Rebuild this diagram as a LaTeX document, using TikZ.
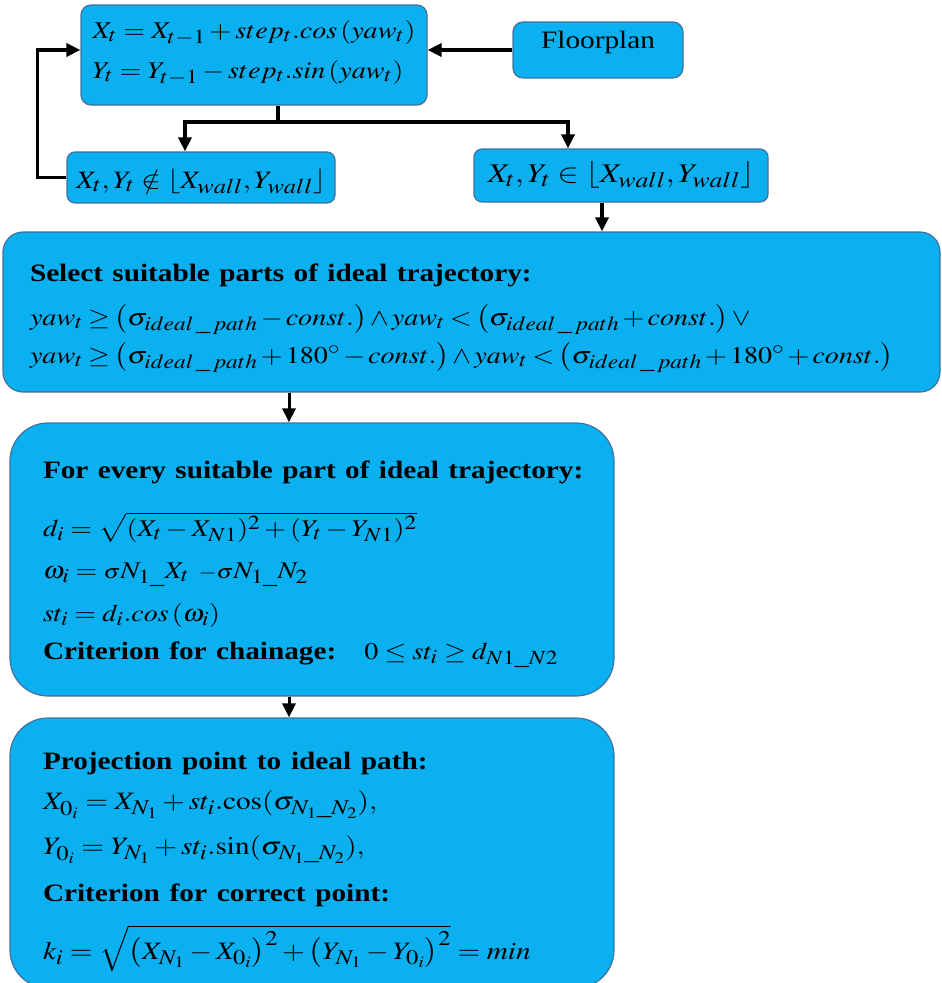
\documentclass[tikz,border=0pt]{standalone}
\usepackage{graphicx}
\usepackage{mathptmx}
\usepackage[no-math]{fontspec}
\setmainfont{Liberation Serif}
\usetikzlibrary{arrows.meta,positioning,calc}
\definecolor{skyfill}{HTML}{0AB0EF}
\definecolor{rim}{HTML}{41719C}
\DeclareMathSizes{27}{27}{22}{17}
\DeclareMathSizes{25}{25}{21}{16}
\DeclareMathSizes{24}{24}{20}{15}
\newcommand\xw[1]{\scalebox{1.17}[1]{#1}}
\newcommand\hd[1]{\xw{\fontsize{25}{38}\selectfont\textbf{#1}}}
\AtBeginDocument{\lineskiplimit=-100pt}

\begin{document}
\begin{tikzpicture}[x=1pt,y=-1pt,font=\fontsize{25}{38}\selectfont,>={Triangle[length=14pt,width=13pt]}]
\tikzset{blk/.style={draw=rim,fill=skyfill,line width=1.2pt,inner sep=0pt,align=left}, flow/.style={->,line width=3.6pt}, tight/.style={execute at begin node={\medmuskip=2mu\thickmuskip=3mu}}}
\useasboundingbox (0,0) rectangle (942,983);
\node[blk,rounded corners=10pt,minimum width=346pt,minimum height=100pt,font=\fontsize{24}{40}\selectfont] (a) at (254,55) {\rule{0pt}{30pt}\xw{$X_t = X_{t-1} + step_t.cos\left(yaw_t\right)$}\\\xw{$Y_t = Y_{t-1} - step_t.sin\left(yaw_t\right)$}\rule[-24pt]{0pt}{24pt}};
\node[blk,rounded corners=10pt,minimum width=170pt,minimum height=56pt,text height=19pt,text depth=23pt] (fp) at (598,50) {\xw{Floorplan}};
\node[blk,rounded corners=8pt,minimum width=268pt,minimum height=51pt,text height=25pt,text depth=4pt] (b) at (201,177.5) {\xw{$X_t,Y_t \notin \left\lfloor X_{wall},Y_{wall}\right\rfloor$}};
\node[blk,rounded corners=8pt,minimum width=294pt,minimum height=53pt,text height=21pt,text depth=8pt,font=\fontsize{27}{38}\selectfont] (c) at (621,175.5) {\xw{$X_t,Y_t \in \left\lfloor X_{wall},Y_{wall}\right\rfloor$}};
\node[blk,tight,rounded corners=20pt,minimum width=937pt,minimum height=160pt,text width=883pt,font=\fontsize{24}{38}\selectfont] (d) at (471.5,312) {\rule{0pt}{42pt}\hd{Select suitable parts of ideal trajectory:}\\[6pt]
\xw{$yaw_t \ge \left(\sigma_{ideal\,\_\,path} - const.\right) \wedge yaw_t < \left(\sigma_{ideal\,\_\,path} + const.\right) \vee$}\\
\xw{$yaw_t \ge \left(\sigma_{ideal\,\_\,path} + 180^\circ - const.\right) \wedge yaw_t < \left(\sigma_{ideal\,\_\,path} + 180^\circ + const.\right)$}\rule[-22pt]{0pt}{22pt}};
\node[blk,rounded corners=38pt,minimum width=604pt,minimum height=273pt,text width=538pt,font=\fontsize{24}{38}\selectfont] (e) at (312,559.5) {\rule{0pt}{42pt}\hd{For every suitable part of ideal trajectory:}\\[20pt]
\xw{$d_i = \sqrt{(X_t - X_{N1})^2 + (Y_t - Y_{N1})^2}$}\\[4pt]
\xw{$\omega_i = {\scriptstyle\sigma}N_{1\_}X_t\ {\scriptstyle -\sigma}N_{1\_}N_2$}\\[5pt]
\xw{$st_i = d_i.cos\left(\omega_i\right)$}\\
\hd{Criterion for chainage:}\xw{\quad $0 \le st_i \ge d_{N1\_N2}$}\rule[-24pt]{0pt}{24pt}};
\node[blk,rounded corners=38pt,minimum width=604pt,minimum height=270pt,text width=538pt] (f) at (312,853) {\rule{0pt}{47pt}\hd{Projection point to ideal path:}\\[2pt]
\xw{$X_{0_i} = X_{N_1} + st_i.\mathrm{cos}(\sigma_{N_1\_N_2}),$}\\[7pt]
\xw{$Y_{0_i} = Y_{N_1} + st_i.\mathrm{sin}(\sigma_{N_1\_N_2}),$}\\[9pt]
\hd{Criterion for correct point:}\\[17pt]
\xw{$k_i = \sqrt{\left(X_{N_1} - X_{0_i}\right)^2 + \left(Y_{N_1} - Y_{0_i}\right)^2} = min$}\rule[-24pt]{0pt}{24pt}};
% top part: loop and split
\draw[flow] (fp.west) -- (fp.west -| a.east);
\coordinate (split) at (278,122);
\draw[line width=3.6pt] (a.south -| split) -- (split);
\draw[flow] (split) -| ([xshift=-16pt]b.north);
\draw[flow] (split) -| ([xshift=-53pt]c.north);
\draw[flow] (b.west) -- ++(-29,0) |- ([yshift=5pt]a.west);
\draw[flow] ([xshift=-19pt]c.south) -- ([xshift=-19pt]c.south |- d.north);
% lower chain
\draw[flow,line width=3pt] ([xshift=-23pt]e.north |- d.south) -- ([xshift=-23pt]e.north);
\draw[flow,line width=3pt] ([xshift=-23pt]f.north |- e.south) -- ([xshift=-23pt]f.north);
\end{tikzpicture}
\end{document}
